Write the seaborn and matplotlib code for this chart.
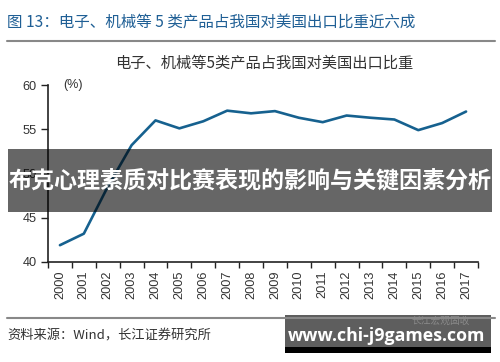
import matplotlib
matplotlib.use("Agg")
import matplotlib.pyplot as plt
import seaborn as sns
import numpy as np
import pandas as pd
from matplotlib.patches import Rectangle
from matplotlib.lines import Line2D

years = list(range(2000, 2018))
share = [41.9, 43.2, 48.5, 53.2, 56.0, 55.1, 55.9, 57.1, 56.8, 57.05,
         56.3, 55.8, 56.55, 56.3, 56.1, 54.9, 55.7, 57.0]
year_labels = [str(y) for y in years]
y_ticks = [40, 45, 50, 55, 60]

header = "图 13：电子、机械等 5 类产品占我国对美国出口比重近六成"
chart_title = "电子、机械等5类产品占我国对美国出口比重"
source = "资料来源：Wind，长江证券研究所"
banner = "布克心理素质对比赛表现的影响与关键因素分析"
site = "www.chi-j9games.com"
logo = "长江宏观固收"

sns.set_theme(style="white")
cjk = ["Noto Sans CJK SC", "DejaVu Sans"]
lat = ["Liberation Sans", "DejaVu Sans"]
plt.rcParams["font.family"] = cjk

W, H = 500, 362
fig = plt.figure(figsize=(W / 100, H / 100), dpi=100)
fig.patch.set_facecolor("white")

ax = fig.add_axes([48 / W, (H - 262) / H, (478 - 48) / W, (262 - 85) / H])
df = pd.DataFrame({"year": years, "share": share})
sns.lineplot(data=df, x="year", y="share", ax=ax, color="#16618f", linewidth=1.9)

ax.set_xlim(years[0] - 0.5, years[-1] + 0.5)
ax.set_ylim(y_ticks[0], y_ticks[-1])
ax.set_yticks(y_ticks)
ax.set_yticklabels([str(v) for v in y_ticks], fontsize=9.2, color="#333333", family=lat)
ax.set_xticks(years)
ax.set_xticklabels(year_labels, rotation=90, fontsize=9.2, color="#333333", family=lat)
ax.set_xticks([y - 0.5 for y in years] + [years[-1] + 0.5], minor=True)
ax.tick_params(axis="x", which="major", length=0, pad=6)
ax.tick_params(axis="x", which="minor", length=4, width=1, color="#222222", direction="out", bottom=True)
ax.tick_params(axis="y", which="major", length=5, width=1, color="#222222", direction="out", left=True, pad=3)
ax.set_xlabel("")
ax.set_ylabel("")
for s in ["top", "right"]:
    ax.spines[s].set_visible(False)
for s in ["left", "bottom"]:
    ax.spines[s].set_color("#222222")
    ax.spines[s].set_linewidth(1.2)
ax.text(0.035, 1.0, "(%)", transform=ax.transAxes, fontsize=9, color="#333333",
        family=lat, ha="left", va="center")

# header and rules
fig.text(7 / W, 1 - 22 / H, header, fontsize=11.2, color="#1f5f95", ha="left", va="center", family=cjk)
fig.add_artist(Line2D([7 / W, 495 / W], [1 - 40.5 / H] * 2, color="#888888", linewidth=1.5))
fig.text(264 / W, 1 - 63 / H, chart_title, fontsize=11, color="#333333", ha="center", va="center", family=cjk)
fig.add_artist(Line2D([7 / W, 495 / W], [1 - 318 / H] * 2, color="#888888", linewidth=1.5))
fig.text(7 / W, 1 - 336 / H, source, fontsize=9.5, color="#333333", ha="left", va="center", family=cjk)

# overlay banner
fig.add_artist(Rectangle((8 / W, 1 - 212 / H), (492 - 8) / W, (212 - 149) / H,
                         transform=fig.transFigure, facecolor="black", alpha=0.6, edgecolor="none"))
fig.text(250 / W, 1 - 181 / H, banner, fontsize=16.6, color="white", fontweight="bold",
         ha="center", va="center", family=cjk)

# watermark box
fig.add_artist(Rectangle((285 / W, 1 - 353 / H), (491 - 285) / W, (353 - 347) / H,
                         transform=fig.transFigure, facecolor="black", edgecolor="none"))
fig.add_artist(Rectangle((285 / W, 1 - 347 / H), (491 - 285) / W, (347 - 315) / H,
                         transform=fig.transFigure, facecolor="#5e5e5e", edgecolor="none"))
fig.text(470 / W, 1 - 320.5 / H, logo, fontsize=7, color="#8a8a8a", ha="right", va="center", family=cjk)
fig.text(387 / W, 1 - 336 / H, site, fontsize=12.8, color="white", fontweight="bold",
         ha="center", va="center", family=["Open Sans", "DejaVu Sans"])

fig.savefig("out.png", dpi=100, facecolor="white")
